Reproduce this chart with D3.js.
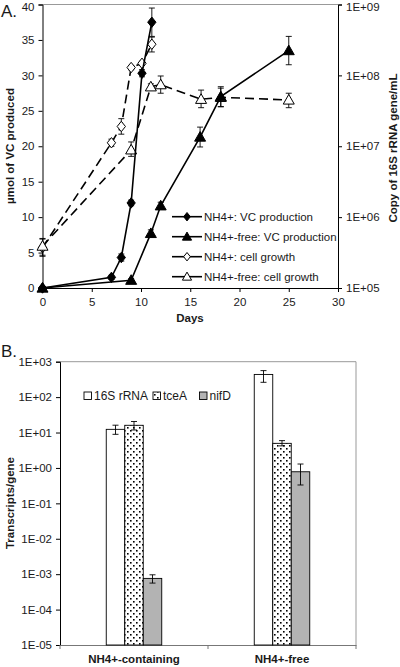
<!DOCTYPE html>
<html><head><meta charset="utf-8">
<script src="https://cdn.jsdelivr.net/npm/d3@7"></script>
<style>body{margin:0;background:#fff}svg{display:block}text{font-family:"Liberation Sans",Arial,sans-serif;fill:#1a1a1a}</style>
</head><body>
<script>
// ---------- Panel A data ----------
const vcNH4Days = [0, 7, 8, 9, 10.1, 11.1];
const vcNH4 = [0, 1.5, 4.3, 12, 30.3, 37.5];
const vcNH4Err = [0, 0.3, 0.5, 0.4, 0.5, 2];
const vcFreeDays = [0, 9, 11, 12, 16, 18.1, 25];
const vcFree = [0, 1.1, 7.7, 11.6, 21.3, 27, 33.5];
const vcFreeErr = [0, 0.2, 0.5, 0.5, 1.4, 1.4, 2];
const cgNH4Days = [0, 7, 8, 9, 10.1, 11.1];
const cgNH4 = [3.7e5, 1.12e7, 1.9e7, 1.29e8, 1.48e8, 2.75e8];
const cgNH4Lo = [2.8e5, 1.0e7, 1.48e7, 1.2e8, 1.38e8, 2.14e8];
const cgNH4Hi = [4.9e5, 1.26e7, 2.45e7, 1.38e8, 1.58e8, 3.47e8];
const cgFreeDays = [0, 9, 11, 12, 16.1, 18.1, 25];
const cgFree = [3.9e5, 8.9e6, 6.9e7, 7.4e7, 4.6e7, 4.9e7, 4.5e7];
const cgFreeLo = [2.9e5, 7.2e6, 6.3e7, 5.6e7, 3.5e7, 3.6e7, 3.5e7];
const cgFreeHi = [5.0e5, 1.15e7, 7.6e7, 9.8e7, 6.2e7, 6.6e7, 5.6e7];
const xTicksA = [0, 5, 10, 15, 20, 25, 30];
const yTicksA = [0, 5, 10, 15, 20, 25, 30, 35, 40];
const yRightTicks = [1e5, 1e6, 1e7, 1e8, 1e9];
const yRightLabels = ["1E+05", "1E+06", "1E+07", "1E+08", "1E+09"];
const legendA = ["NH4+: VC production", "NH4+-free: VC production", "NH4+: cell growth", "NH4+-free: cell growth"];

// ---------- Panel B data ----------
const groups = ["NH4+-containing", "NH4+-free"];
const genes = ["16S rRNA", "tceA", "nifD"];
const val16S = [12.3, 437];
const err16SLo = [8.9, 262];
const err16SHi = [16.1, 560];
const valTceA = [16, 4.95];
const errTceALo = [11.8, 4.2];
const errTceAHi = [20.5, 5.9];
const valNifD = [7.6e-4, 0.78];
const errNifDLo = [5.6e-4, 0.33];
const errNifDHi = [9.6e-4, 1.29];
const yTicksB = [1e-5, 1e-4, 1e-3, 1e-2, 1e-1, 1, 10, 100, 1000];
const yTickLabelsB = ["1E-05", "1E-04", "1E-03", "1E-02", "1E-01", "1E+00", "1E+01", "1E+02", "1E+03"];

const svg = d3.select("body").append("svg").attr("width", 400).attr("height", 667);

// ================= Panel A =================
const x = d3.scaleLinear().domain([0, 30]).range([42.5, 338]);
const yL = d3.scaleLinear().domain([0, 40]).range([288, 4.5]);
const yR = d3.scaleLog().domain([1e5, 1e9]).range([288, 4.5]);

svg.append("text").attr("x", 1).attr("y", 17).attr("font-size", 17).text("A.");
// top border
svg.append("line").attr("x1", x(0)).attr("x2", x(30)).attr("y1", 4.5).attr("y2", 4.5).attr("stroke", "#999");

const axL = svg.append("g").attr("transform", `translate(${x(0)},0)`)
  .call(d3.axisLeft(yL).tickValues(yTicksA).tickSize(4).tickPadding(4));
const axR = svg.append("g").attr("transform", `translate(${x(30)},0)`)
  .call(d3.axisRight(yR).tickValues(yRightTicks).tickFormat((d, i) => yRightLabels[i]).tickSize(4).tickPadding(4));
const axB = svg.append("g").attr("transform", `translate(0,${yL(0)})`)
  .call(d3.axisBottom(x).tickValues(xTicksA).tickSize(4).tickPadding(6));
[axL, axR, axB].forEach(g => {
  g.select(".domain").attr("stroke", "#000");
  g.selectAll(".tick line").attr("stroke", "#000");
  g.selectAll("text").attr("font-size", 11.5).attr("fill", "#1a1a1a").attr("font-family", '"Liberation Sans",Arial,sans-serif');
});
// keep the top tick labels inside the picture
axL.selectAll(".tick").filter(d => d === 40).select("text").attr("dy", "0.5em");
axR.selectAll(".tick").filter(d => d === 1e9).select("text").attr("dy", "0.5em");

svg.append("text").attr("transform", `translate(14,146) rotate(-90)`).attr("text-anchor", "middle")
  .attr("font-size", 11.5).attr("font-weight", "bold").text("µmol of VC produced");
svg.append("text").attr("transform", `translate(397,148) rotate(-90)`).attr("text-anchor", "middle")
  .attr("font-size", 11.5).attr("font-weight", "bold").text("Copy of 16S rRNA gene/mL");
svg.append("text").attr("x", 190).attr("y", 322).attr("text-anchor", "middle")
  .attr("font-size", 11.5).attr("font-weight", "bold").text("Days");

const diamond = (s) => `M0,${-s}L${s * 0.8},0L0,${s}L${-s * 0.8},0Z`;
const tri = (s) => `M0,${-s}L${s},${s * 0.75}L${-s},${s * 0.75}Z`;

function errBars(g, xs, ys, lo, hi) {
  xs.forEach((d, i) => {
    if (Math.abs(ys(lo[i]) - ys(hi[i])) < 2) return;
    const cx = x(d);
    g.append("line").attr("x1", cx).attr("x2", cx).attr("y1", ys(lo[i])).attr("y2", ys(hi[i])).attr("stroke", "#000").attr("stroke-width", 0.9);
    [lo[i], hi[i]].forEach(v => g.append("line").attr("x1", cx - 3).attr("x2", cx + 3).attr("y1", ys(v)).attr("y2", ys(v)).attr("stroke", "#000").attr("stroke-width", 0.9));
  });
}
function series(days, vals, ys, dash) {
  const g = svg.append("g");
  const line = d3.line().x((d, i) => x(days[i])).y(d => ys(d));
  g.append("path").attr("d", line(vals)).attr("fill", "none").attr("stroke", "#000").attr("stroke-width", 1.6)
    .attr("stroke-dasharray", dash ? "9,5" : null);
  return g;
}
function markers(g, days, vals, ys, shapeFn, fill) {
  days.forEach((d, i) => {
    g.append("path").attr("d", shapeFn).attr("transform", `translate(${x(d)},${ys(vals[i])})`)
      .attr("fill", fill).attr("stroke", "#000").attr("stroke-width", 1);
  });
}

// cell growth (dashed)
const gCN = series(cgNH4Days, cgNH4, yR, true);
const gCF = series(cgFreeDays, cgFree, yR, true);
errBars(gCN, cgNH4Days, yR, cgNH4Lo, cgNH4Hi);
errBars(gCF, cgFreeDays, yR, cgFreeLo, cgFreeHi);
markers(gCN, cgNH4Days, cgNH4, yR, diamond(5.2), "#fff");
markers(gCF, cgFreeDays, cgFree, yR, tri(5.5), "#fff");
// VC production (solid)
const gVN = series(vcNH4Days, vcNH4, yL, false);
const gVF = series(vcFreeDays, vcFree, yL, false);
errBars(gVN, vcNH4Days, yL, vcNH4.map((v, i) => v - vcNH4Err[i]), vcNH4.map((v, i) => v + vcNH4Err[i]));
errBars(gVF, vcFreeDays, yL, vcFree.map((v, i) => v - vcFreeErr[i]), vcFree.map((v, i) => v + vcFreeErr[i]));
markers(gVN, vcNH4Days, vcNH4, yL, diamond(5.2), "#000");
markers(gVF, vcFreeDays, vcFree, yL, tri(5.5), "#000");

// legend A
const legShapes = [[diamond(4.2), "#000"], [tri(4.6), "#000"], [diamond(4.2), "#fff"], [tri(4.6), "#fff"]];
legendA.forEach((t, i) => {
  const ly = 216.7 + i * 20;
  svg.append("line").attr("x1", 172).attr("x2", 202).attr("y1", ly).attr("y2", ly).attr("stroke", "#000").attr("stroke-width", 1.6);
  svg.append("path").attr("d", legShapes[i][0]).attr("transform", `translate(187,${ly})`).attr("fill", legShapes[i][1]).attr("stroke", "#000");
  svg.append("text").attr("x", 204).attr("y", ly + 4).attr("font-size", 11.5).text(t);
});

// ================= Panel B =================
const xB = d3.scaleBand().domain(groups).range([60, 356]);
const yB = d3.scaleLog().domain([1e-5, 1e3]).range([645, 361.7]);
const bw = xB.bandwidth() * 0.125;

const defs = svg.append("defs");
const pat = defs.append("pattern").attr("id", "dots").attr("patternUnits", "userSpaceOnUse").attr("width", 6).attr("height", 6);
pat.append("rect").attr("width", 6).attr("height", 6).attr("fill", "#fff");
pat.append("rect").attr("x", 1).attr("y", 1).attr("width", 1.6).attr("height", 1.6).attr("fill", "#000");
pat.append("rect").attr("x", 4).attr("y", 4).attr("width", 1.6).attr("height", 1.6).attr("fill", "#000");

svg.append("text").attr("x", 1).attr("y", 357).attr("font-size", 17).text("B.");
svg.append("line").attr("x1", 60).attr("x2", 356).attr("y1", 361.7).attr("y2", 361.7).attr("stroke", "#999");
svg.append("line").attr("x1", 356).attr("x2", 356).attr("y1", 361.7).attr("y2", 645).attr("stroke", "#999");

const axLB = svg.append("g").attr("transform", "translate(60,0)")
  .call(d3.axisLeft(yB).tickValues(yTicksB).tickFormat((d, i) => yTickLabelsB[i]).tickSize(4).tickPadding(4));
axLB.select(".domain").attr("stroke", "#000");
axLB.selectAll(".tick line").attr("stroke", "#000");
axLB.selectAll("text").attr("font-size", 11.5).attr("fill", "#1a1a1a").attr("font-family", '"Liberation Sans",Arial,sans-serif');

const axBB = svg.append("g").attr("transform", "translate(0,645)")
  .call(d3.axisBottom(xB).tickSize(0).tickPadding(10));
axBB.select(".domain").attr("stroke", "#777");
axBB.selectAll("text").attr("font-size", 11.5).attr("font-weight", "bold").attr("fill", "#1a1a1a").attr("font-family", '"Liberation Sans",Arial,sans-serif');
[60, 208, 356].forEach(px => svg.append("line").attr("x1", px).attr("x2", px).attr("y1", 645).attr("y2", 649).attr("stroke", "#777"));

svg.append("text").attr("transform", "translate(14,503) rotate(-90)").attr("text-anchor", "middle")
  .attr("font-size", 11.5).attr("font-weight", "bold").text("Transcripts/gene");

const barSets = [
  { vals: val16S, lo: err16SLo, hi: err16SHi, fill: "#fff" },
  { vals: valTceA, lo: errTceALo, hi: errTceAHi, fill: "url(#dots)" },
  { vals: valNifD, lo: errNifDLo, hi: errNifDHi, fill: "#b3b3b3" }
];
groups.forEach((grp, gi) => {
  const cx = xB(grp) + xB.bandwidth() / 2;
  barSets.forEach((s, si) => {
    const bx = cx + (si - 1.5) * bw;
    svg.append("rect").attr("x", bx).attr("width", bw).attr("y", yB(s.vals[gi])).attr("height", yB(1e-5) - yB(s.vals[gi]))
      .attr("fill", s.fill).attr("stroke", "#000").attr("stroke-width", 0.9);
    const mx = bx + bw / 2;
    svg.append("line").attr("x1", mx).attr("x2", mx).attr("y1", yB(s.lo[gi])).attr("y2", yB(s.hi[gi])).attr("stroke", "#000").attr("stroke-width", 0.9);
    [s.lo[gi], s.hi[gi]].forEach(v => svg.append("line").attr("x1", mx - 3).attr("x2", mx + 3).attr("y1", yB(v)).attr("y2", yB(v)).attr("stroke", "#000").attr("stroke-width", 0.9));
  });
});

// legend B
const legBX = [84, 153, 199.5];
genes.forEach((gname, i) => {
  svg.append("rect").attr("x", legBX[i]).attr("y", 392).attr("width", 7.5).attr("height", 7.5)
    .attr("fill", barSets[i].fill).attr("stroke", "#000").attr("stroke-width", 0.9);
  svg.append("text").attr("x", legBX[i] + 10).attr("y", 400).attr("font-size", 12).text(gname);
});
</script>
</body></html>
